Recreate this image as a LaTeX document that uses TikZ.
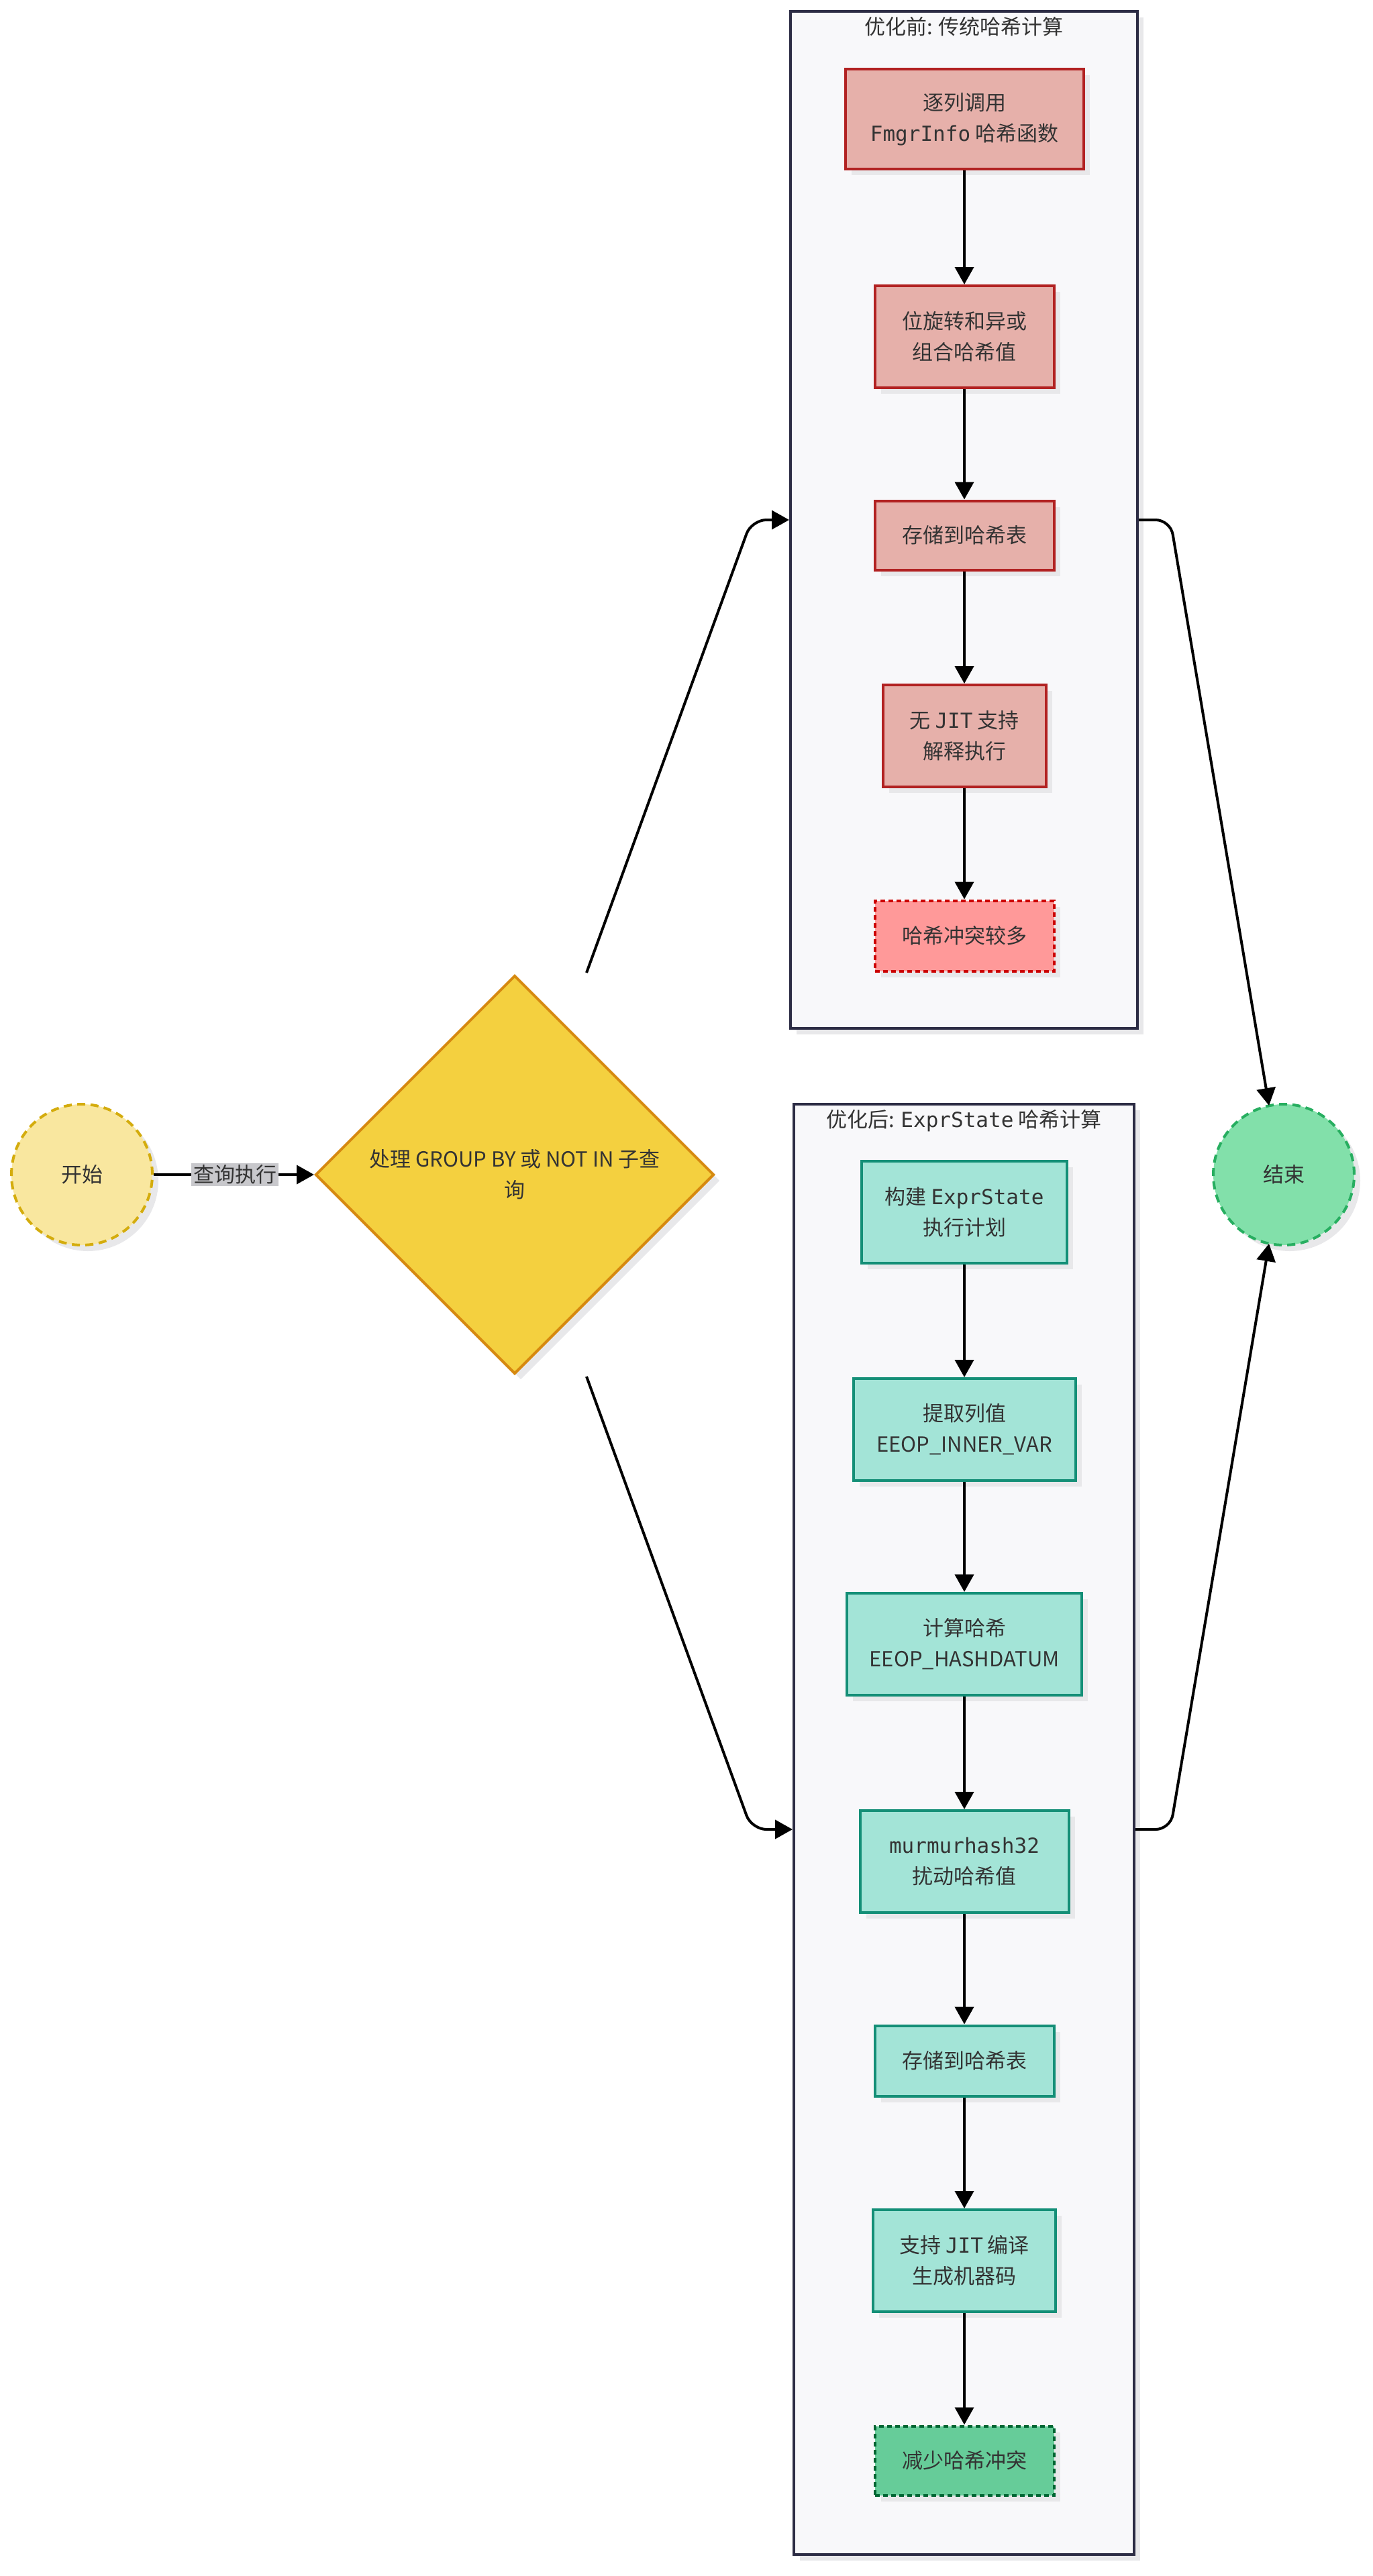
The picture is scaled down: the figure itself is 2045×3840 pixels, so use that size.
\documentclass[tikz,border=0pt]{standalone}
\usepackage{fontspec}
\setmainfont{Noto Sans CJK SC}
\newfontfamily\monof{DejaVu Sans Mono}[Scale=1.0]
\usetikzlibrary{arrows.meta,shapes.geometric,shadows,calc}
\definecolor{txt}{HTML}{333333}
\definecolor{clfill}{HTML}{F8F8FA}
\definecolor{cldraw}{HTML}{2C2C44}
\definecolor{redfill}{HTML}{E6B0AA}
\definecolor{reddraw}{HTML}{B22222}
\definecolor{red2fill}{HTML}{FF9999}
\definecolor{red2draw}{HTML}{CC0000}
\definecolor{grnfill}{HTML}{A3E4D7}
\definecolor{grndraw}{HTML}{148F77}
\definecolor{grn2fill}{HTML}{66CC99}
\definecolor{grn2draw}{HTML}{006633}
\definecolor{stfill}{HTML}{F9E79F}
\definecolor{stdraw}{HTML}{D4AC0D}
\definecolor{dmfill}{HTML}{F4D03F}
\definecolor{dmdraw}{HTML}{D68910}
\definecolor{enfill}{HTML}{82E0AA}
\definecolor{endraw}{HTML}{27AE60}
\definecolor{lblbg}{HTML}{C8C8CC}
\definecolor{shd}{HTML}{E8E8EA}
\begin{document}
\begin{tikzpicture}[x=1pt,y=-1pt,
  font=\fontsize{31}{46}\selectfont,
  every node/.style={text=txt},
  shd/.style={drop shadow={shadow xshift=9pt,shadow yshift=-9pt,fill=shd,opacity=1}},
  cluster/.style={rectangle,draw=cldraw,fill=clfill,line width=4pt,shd},
  boxbase/.style={rectangle,line width=4pt,align=center,shd},
  redbox/.style={boxbase,draw=reddraw,fill=redfill},
  reddash/.style={boxbase,draw=red2draw,fill=red2fill,dash pattern=on 7pt off 5pt},
  grnbox/.style={boxbase,draw=grndraw,fill=grnfill},
  grndash/.style={boxbase,draw=grn2draw,fill=grn2fill,dash pattern=on 7pt off 5pt},
  arr/.style={draw=black,line width=4pt,-{Triangle[length=26pt,width=28pt]}},
]
\useasboundingbox (0,0) rectangle (2045,3840);

% clusters
\node[cluster,minimum width=517pt,minimum height=1516pt] (topc) at (1436.5,775) {};
\node[anchor=center] (toptitle) at (1436.5,40) {优化前: 传统哈希计算};
\node[cluster,minimum width=507pt,minimum height=2162pt] (botc) at (1436.5,2727) {};
\node[anchor=center] (bottitle) at (1436.5,1671) {优化后: {\monof ExprState} 哈希计算};

% start, decision, end
\node[circle,minimum size=210pt,fill=stfill,draw=stdraw,line width=4pt,dash pattern=on 12pt off 8pt,shd] (start) at (122,1751) {开始};
\node[diamond,aspect=1,minimum width=594pt,minimum height=594pt,fill=dmfill,draw=dmdraw,line width=4pt,align=center,shd] (dia) at (767,1751) {处理 GROUP BY 或 NOT IN 子查\\询};
\node[circle,minimum size=210pt,fill=enfill,draw=endraw,line width=4pt,dash pattern=on 12pt off 8pt,shd] (endc) at (1913,1751) {结束};

% before
\node[redbox,minimum width=355pt,minimum height=149pt] (a1) at (1437,178) {逐列调用\\{\monof FmgrInfo} 哈希函数};
\node[redbox,minimum width=267pt,minimum height=152pt] (a2) at (1437,502) {位旋转和异或\\组合哈希值};
\node[redbox,minimum width=267pt,minimum height=103pt] (a3) at (1437,798) {存储到哈希表};
\node[redbox,minimum width=243pt,minimum height=152pt] (a4) at (1437,1097) {无 {\monof JIT} 支持\\解释执行};
\node[reddash,minimum width=267pt,minimum height=105pt] (a5) at (1437,1395) {哈希冲突较多};

% after
\node[grnbox,minimum width=306pt,minimum height=152pt] (b1) at (1437,1807) {构建 {\monof ExprState}\\执行计划};
\node[grnbox,minimum width=331pt,minimum height=152pt] (b2) at (1437,2131) {提取列值\\EEOP\_INNER\_VAR};
\node[grnbox,minimum width=350pt,minimum height=152pt] (b3) at (1437,2451) {计算哈希\\EEOP\_HASHDATUM};
\node[grnbox,minimum width=311pt,minimum height=152pt] (b4) at (1437,2775) {{\monof murmurhash32}\\扰动哈希值};
\node[grnbox,minimum width=267pt,minimum height=105pt] (b5) at (1437,3072) {存储到哈希表};
\node[grnbox,minimum width=272pt,minimum height=152pt] (b6) at (1437,3370) {支持 {\monof JIT} 编译\\生成机器码};
\node[grndash,minimum width=267pt,minimum height=103pt] (b7) at (1437,3668) {减少哈希冲突};

% inner arrows
\draw[arr] (a1.south) -- (a2.north);
\draw[arr] (a2.south) -- (a3.north);
\draw[arr] (a3.south) -- (a4.north);
\draw[arr] (a4.south) -- (a5.north);
\draw[arr] (b1.south) -- (b2.north);
\draw[arr] (b2.south) -- (b3.north);
\draw[arr] (b3.south) -- (b4.north);
\draw[arr] (b4.south) -- (b5.north);
\draw[arr] (b5.south) -- (b6.north);
\draw[arr] (b6.south) -- (b7.north);

% start -> decision
\draw[arr] (start.east) -- (dia.west);
\node[fill=lblbg,inner sep=3pt] (lbl) at (350,1751) {查询执行};

% decision -> clusters
\coordinate (dtop) at ($(dia.north)+(107,-2)$);
\coordinate (dbot) at ($(dia.south)+(107,2)$);
\draw[arr,rounded corners=22pt] (dtop) -- ($(topc.west)+(-56,0)$) -- (topc.west);
\draw[arr,rounded corners=22pt] (dbot) -- ($(botc.west)+(-61,0)$) -- (botc.west);

% clusters -> end
\coordinate (e1) at ($(endc.center)+(-22,-103)$);
\coordinate (e2) at ($(endc.center)+(-22,103)$);
\draw[arr,rounded corners=22pt] (topc.east) -- ($(topc.east)+(47,0)$) -- (e1);
\draw[arr,rounded corners=22pt] (botc.east) -- ($(botc.east)+(52,0)$) -- (e2);
\end{tikzpicture}
\end{document}
